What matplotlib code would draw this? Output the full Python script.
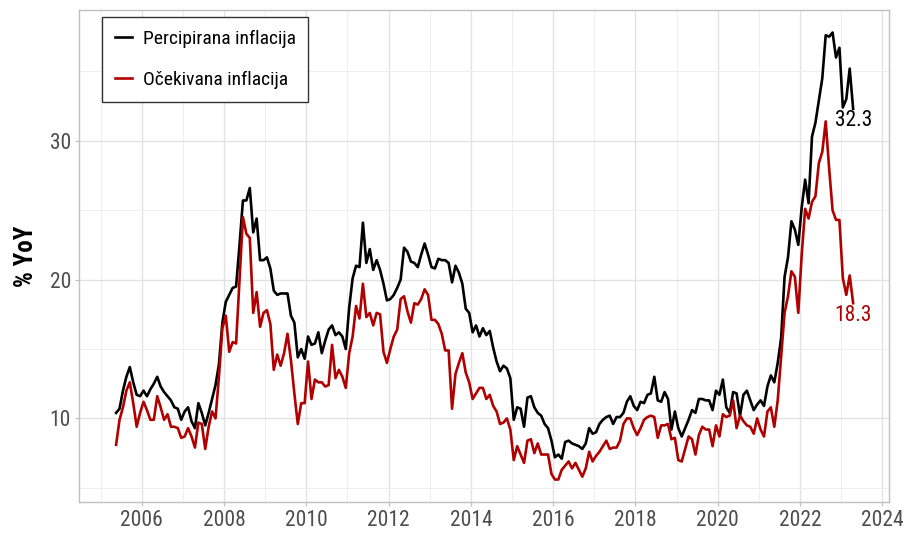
import numpy as np
import matplotlib
matplotlib.use('Agg')
import matplotlib.pyplot as plt
from matplotlib.ticker import MultipleLocator

plt.rcParams['font.family'] = ['Liberation Sans Narrow', 'Roboto Condensed', 'Roboto', 'DejaVu Sans']

# monthly series, starting May 2005
start_year = 2005
start_month = 5

percipirana = [
    10.4, 10.7, 12.0, 13.0, 13.7, 12.6, 11.7, 11.6, 12.0, 11.6, 12.1, 12.5,
    13.0, 12.3, 11.9, 11.6, 11.3, 10.8, 10.7, 9.9, 10.5, 10.8, 9.8, 9.3,
    11.1, 10.4, 9.5, 10.4, 11.4, 12.4, 13.9, 16.9, 18.4, 18.9, 19.4, 19.5,
    22.5, 25.7, 25.7, 26.6, 23.4, 24.4, 21.4, 21.4, 21.6, 20.8, 19.2, 18.9,
    19.0, 19.0, 19.0, 17.4, 16.9, 14.4, 15.0, 14.3, 15.9, 15.3, 15.4, 16.2,
    14.7, 15.6, 16.4, 16.7, 16.0, 16.2, 15.9, 15.0, 18.0, 20.1, 21.0, 20.9,
    24.1, 21.2, 22.2, 20.7, 21.4, 20.7, 19.7, 18.5, 18.6, 18.9, 19.4, 20.0,
    22.3, 22.0, 21.3, 21.2, 20.9, 21.8, 22.6, 21.8, 20.9, 20.8, 21.5, 21.4,
    21.4, 21.2, 19.8, 21.0, 20.5, 19.7, 17.9, 17.6, 16.2, 16.7, 15.9, 16.5,
    16.0, 16.3, 15.1, 14.1, 13.4, 13.8, 13.6, 12.9, 9.9, 10.8, 10.7, 9.4,
    11.5, 11.6, 10.8, 10.4, 10.2, 9.6, 9.3, 8.4, 7.2, 7.4, 7.1, 8.3,
    8.4, 8.2, 8.1, 8.0, 7.8, 8.2, 9.3, 8.9, 9.0, 9.6, 9.9, 10.1,
    10.2, 9.6, 10.1, 10.1, 10.4, 11.2, 11.6, 10.9, 10.6, 11.2, 11.1, 11.7,
    11.8, 13.0, 11.3, 11.2, 11.9, 11.4, 9.2, 10.5, 9.3, 8.7, 9.3, 9.9,
    10.6, 10.4, 11.4, 11.4, 11.3, 11.3, 10.6, 12.0, 11.7, 12.8, 10.8, 10.4,
    11.9, 11.8, 10.2, 11.7, 12.0, 11.3, 10.6, 11.0, 11.3, 10.9, 12.3, 13.1,
    12.6, 14.0, 15.8, 20.2, 21.6, 24.2, 23.6, 22.5, 25.2, 27.2, 25.5, 30.3,
    31.3, 32.9, 34.5, 37.6, 37.5, 37.8, 36.0, 36.7, 32.4, 33.0, 35.2, 32.3,
]

ocekivana = [
    8.1, 9.9, 10.8, 12.0, 12.6, 11.1, 9.4, 10.4, 11.2, 10.6, 9.9, 9.9,
    11.6, 10.8, 9.9, 10.3, 9.4, 9.4, 9.3, 8.6, 8.7, 9.3, 8.7, 7.9,
    9.7, 9.6, 7.8, 9.4, 10.5, 10.0, 13.0, 16.5, 17.4, 14.8, 15.5, 15.4,
    20.0, 24.5, 23.3, 23.0, 17.6, 19.1, 16.6, 17.6, 17.8, 16.8, 13.5, 14.6,
    13.8, 14.7, 16.1, 14.2, 11.8, 9.6, 11.1, 11.1, 14.1, 11.4, 12.8, 12.6,
    12.6, 12.3, 12.4, 15.3, 12.9, 13.5, 13.0, 12.2, 14.7, 15.9, 18.1, 17.2,
    19.7, 17.3, 17.6, 16.7, 17.6, 17.5, 14.8, 14.0, 15.0, 15.9, 16.4, 18.6,
    18.8, 17.7, 16.9, 18.3, 18.2, 18.6, 19.3, 18.9, 17.1, 17.1, 16.8, 16.1,
    14.9, 14.9, 10.7, 13.2, 14.0, 14.7, 13.3, 12.6, 11.4, 11.8, 12.2, 12.2,
    11.4, 11.7, 10.9, 10.5, 9.6, 9.7, 10.0, 9.2, 7.0, 8.0, 7.4, 6.8,
    8.4, 8.5, 7.5, 8.2, 7.4, 7.4, 7.4, 6.0, 5.6, 5.6, 6.3, 6.6,
    6.9, 6.4, 6.8, 6.3, 5.8, 6.4, 7.6, 6.9, 7.3, 7.6, 8.0, 8.4,
    7.8, 7.9, 7.9, 8.4, 9.6, 10.0, 10.0, 9.3, 8.8, 9.3, 9.9, 10.1,
    10.2, 10.1, 8.6, 9.5, 9.5, 9.6, 8.5, 8.6, 7.0, 6.9, 7.8, 8.7,
    8.5, 7.4, 8.8, 9.4, 9.2, 9.2, 8.0, 9.5, 8.7, 10.3, 10.1, 10.2,
    11.3, 9.3, 10.2, 9.8, 9.5, 9.4, 8.9, 10.0, 9.2, 8.7, 10.5, 10.8,
    9.4, 11.3, 14.5, 17.6, 18.8, 20.6, 20.2, 17.6, 21.8, 25.1, 24.4, 25.6,
    26.0, 28.4, 29.2, 31.4, 28.0, 25.0, 24.3, 24.3, 20.1, 18.9, 20.3, 18.3,
]

series_names = ['Percipirana inflacija', 'Očekivana inflacija']
series_colors = ['#000000', '#b00000']
x_ticks = list(range(2006, 2025, 2))
y_ticks = [10, 20, 30]

# decimal year at mid-month
months = np.arange(len(percipirana))
t = start_year + (start_month - 1 + months + 0.5) / 12

fig = plt.figure(figsize=(9.04, 5.35), dpi=100)
ax = fig.add_axes([0.0877, 0.0622, 0.896, 0.9191])

for vals, name, col in zip([percipirana, ocekivana], series_names, series_colors):
    ax.plot(t, vals, color=col, lw=1.9, label=name, zorder=3)
    ax.annotate(f'{vals[-1]:.1f}', xy=(t[-1], vals[-1]), xytext=(0, -1),
                textcoords='offset points', ha='center', va='top',
                color=col, fontsize=15.5, zorder=4)

ax.set_xlim(2004.48, 2024.17)
ax.set_ylim(4.0, 39.42)
ax.set_xticks(x_ticks)
ax.set_yticks(y_ticks)
ax.xaxis.set_minor_locator(MultipleLocator(1))
ax.yaxis.set_minor_locator(MultipleLocator(5))

ax.grid(which='major', color='#e2e2e2', lw=1.0, zorder=0)
ax.grid(which='minor', color='#eeeeee', lw=0.7, zorder=0)
ax.set_axisbelow(True)

for s in ax.spines.values():
    s.set_color('#c0c0c0')
    s.set_linewidth(1.0)

ax.tick_params(which='major', length=3, width=0.9, color='#c0c0c0',
               labelcolor='#4d4d4d', labelsize=15.5, pad=3)
ax.tick_params(which='minor', length=0)

ax.set_ylabel('% YoY', fontsize=18, fontweight='bold', color='black')
ax.yaxis.set_label_coords(-0.051, 0.5)

leg = ax.legend(loc='upper left', bbox_to_anchor=(0.028, 0.986), borderaxespad=0,
                fontsize=14, handlelength=0.9, handletextpad=0.55,
                labelspacing=1.2, borderpad=0.65, fancybox=False,
                framealpha=1, edgecolor='#333333')
leg.get_frame().set_linewidth(1.0)

fig.savefig('out.png', dpi=100)
plt.close(fig)
